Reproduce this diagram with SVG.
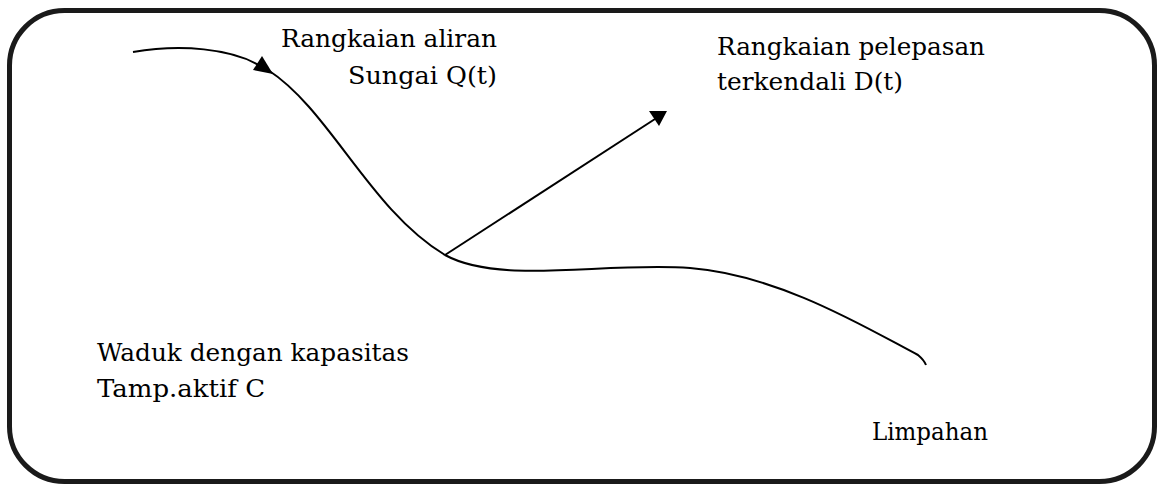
<svg xmlns="http://www.w3.org/2000/svg" width="1159" height="486" viewBox="0 0 1159 486">
<style>
.ln{fill:none;stroke:#000;stroke-width:2}
.hd{fill:#000;stroke:none}
.tx{font-family:"DejaVu Serif",serif;font-size:25px;fill:#000}
</style>
<rect id="frame" x="9.5" y="10.5" width="1145" height="471" rx="55" ry="55" fill="#fff" stroke="#1a1a1a" stroke-width="5"/>
<g id="connectors">
<path class="ln" d="M133,52 C180,44 232,48 262,67"/>
<polygon class="hd" points="273,74 253,70 262,56"/>
<path class="ln" d="M268,70 C330,110 370,210 445,255 C500,285 600,262 690,268 C780,275 870,330 918,355 Q924,360 926,365"/>
<path class="ln" d="M445,255 L655,119" stroke-width="2.5"/>
<polygon class="hd" points="667,111 659,126 649,111"/>
</g>
<g id="inflow"><text class="tx" x="281" y="47" textLength="216" lengthAdjust="spacingAndGlyphs">Rangkaian aliran</text><text class="tx" x="348" y="84" textLength="149" lengthAdjust="spacingAndGlyphs">Sungai Q(t)</text></g>
<g id="release"><text class="tx" x="717" y="55" textLength="268" lengthAdjust="spacingAndGlyphs">Rangkaian pelepasan</text><text class="tx" x="717" y="90" textLength="186" lengthAdjust="spacingAndGlyphs">terkendali D(t)</text></g>
<g id="reservoir"><text class="tx" x="97" y="361" textLength="312" lengthAdjust="spacingAndGlyphs">Waduk dengan kapasitas</text><text class="tx" x="97" y="397" textLength="168" lengthAdjust="spacingAndGlyphs">Tamp.aktif C</text></g>
<g id="spill"><text class="tx" x="872" y="440" textLength="116" lengthAdjust="spacingAndGlyphs">Limpahan</text></g>
</svg>
